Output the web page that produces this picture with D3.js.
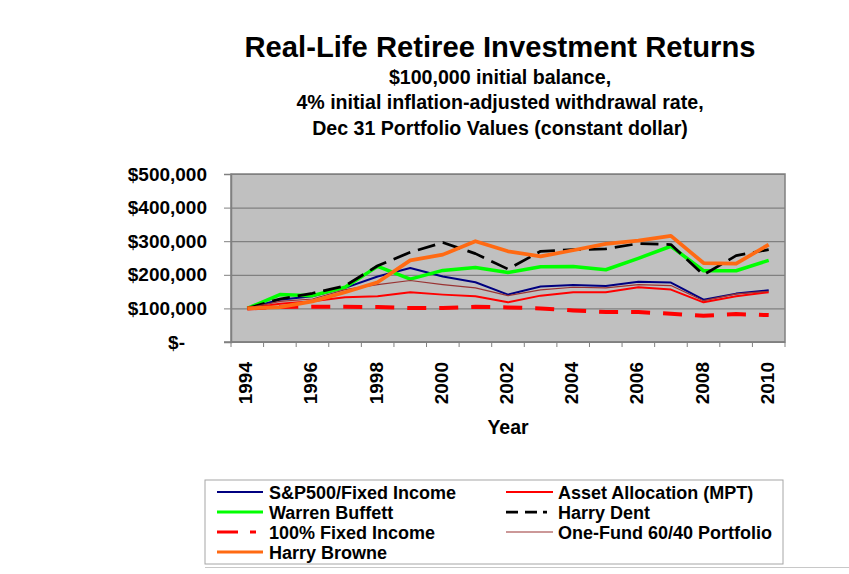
<!DOCTYPE html>
<html>
<head>
<meta charset="utf-8">
<script src="https://cdn.jsdelivr.net/npm/d3@7"></script>
<style>
  body { margin: 0; background: #fff; }
  svg text { font-family: "Liberation Sans", Arial, sans-serif; font-weight: bold; fill: #000; }
</style>
</head>
<body>
<div id="chart"></div>
<script>
// data (constant dollars, Dec 31 values)
const years = [1994, 1995, 1996, 1997, 1998, 1999, 2000, 2001, 2002, 2003, 2004, 2005, 2006, 2007, 2008, 2009, 2010];
const sp500Fixed = [100000, 126000, 136000, 161000, 195000, 220000, 195000, 178000, 141000, 165000, 170000, 167000, 179000, 177000, 126000, 144000, 154000];
const assetAllocation = [100000, 114000, 121000, 133000, 136000, 148000, 141000, 136000, 118000, 138000, 148000, 148000, 163000, 156000, 118000, 136000, 148000];
const warrenBuffett = [100000, 141000, 138000, 163000, 225000, 187000, 213000, 222000, 207000, 224000, 225000, 215000, 249000, 285000, 212000, 212000, 243000];
const harryDent = [100000, 128000, 145000, 167000, 227000, 267000, 296000, 263000, 217000, 270000, 275000, 277000, 293000, 290000, 200000, 257000, 275000];
const fixedIncome = [100000, 104000, 105000, 105000, 104000, 101000, 101000, 105000, 103000, 100000, 94000, 89000, 89000, 84000, 78000, 83000, 80000];
const oneFund6040 = [100000, 121000, 128000, 156000, 171000, 183000, 171000, 161000, 138000, 155000, 163000, 161000, 171000, 168000, 123000, 143000, 151000];
const harryBrowne = [100000, 104000, 121000, 148000, 178000, 243000, 260000, 300000, 270000, 255000, 273000, 292000, 302000, 316000, 235000, 233000, 290000];
const yTicks = [0, 100000, 200000, 300000, 400000, 500000];
const xLabelYears = [1994, 1996, 1998, 2000, 2002, 2004, 2006, 2008, 2010];

const titleText = 'Real-Life Retiree Investment Returns';
const subtitleLines = ['$100,000 initial balance,', '4% initial inflation-adjusted withdrawal rate,', 'Dec 31 Portfolio Values (constant dollar)'];

// series in Excel order (later ones drawn on top)
const series = [
  { name: 'S&P500/Fixed Income', values: sp500Fixed, color: '#000080', width: 2, dash: null },
  { name: 'Asset Allocation (MPT)', values: assetAllocation, color: '#ff0000', width: 2, dash: null },
  { name: 'Warren Buffett', values: warrenBuffett, color: '#00ff00', width: 3.5, dash: null },
  { name: 'Harry Dent', values: harryDent, color: '#000000', width: 2.75, dash: '18,8' },
  { name: '100% Fixed Income', values: fixedIncome, color: '#ff0000', width: 4, dash: '19,13' },
  { name: 'One-Fund 60/40 Portfolio', values: oneFund6040, color: '#993333', width: 1.2, dash: null },
  { name: 'Harry Browne', values: harryBrowne, color: '#ff6a13', width: 3.75, dash: null }
];

// 全体サイズ ---------------------------------------------------------------
const width = 849;
const height = 574;
const plot = { left: 231, right: 785, top: 174, bottom: 342 };

const svg = d3.select('#chart').append('svg')
  .attr('width', width)
  .attr('height', height);

// タイトル ------------------------------------------------------------------
svg.append('text')
  .attr('x', 500).attr('y', 57)
  .attr('text-anchor', 'middle')
  .attr('font-size', '29.2px')
  .text(titleText);
svg.selectAll('.subtitle')
  .data(subtitleLines)
  .enter().append('text')
  .attr('class', 'subtitle')
  .attr('x', 500)
  .attr('y', (d, i) => 83.5 + i * 25.5)
  .attr('text-anchor', 'middle')
  .attr('font-size', '19.6px')
  .text(d => d);

// スケール ------------------------------------------------------------------
const xScale = d3.scaleBand()
  .domain(years)
  .range([plot.left, plot.right])
  .padding(0);
const yScale = d3.scaleLinear()
  .domain([0, 500000])
  .range([plot.bottom, plot.top]);
const cx = d => xScale(d) + xScale.bandwidth() / 2;

// プロット背景 --------------------------------------------------------------
svg.append('rect')
  .attr('x', plot.left).attr('y', plot.top)
  .attr('width', plot.right - plot.left)
  .attr('height', plot.bottom - plot.top)
  .attr('fill', '#c0c0c0')
  .attr('stroke', '#808080')
  .attr('stroke-width', 1.5);

// グリッド線
svg.append('g')
  .attr('transform', 'translate(' + plot.left + ',0)')
  .call(d3.axisLeft(yScale).tickValues(yTicks).tickSize(-(plot.right - plot.left)).tickFormat(''))
  .call(g => g.select('.domain').remove())
  .selectAll('.tick line')
  .attr('stroke', '#808080')
  .attr('stroke-width', 1.2);

// y軸
const yAxis = svg.append('g')
  .attr('transform', 'translate(' + plot.left + ',0)')
  .call(d3.axisLeft(yScale)
    .tickValues(yTicks)
    .tickSize(7)
    .tickPadding(17)
    .tickFormat(d => d === 0 ? '$-' : d3.format('$,')(d)));
yAxis.select('.domain').attr('stroke', '#808080').attr('stroke-width', 1.5);
yAxis.selectAll('.tick line').attr('stroke', '#808080');
yAxis.selectAll('.tick text')
  .attr('font-size', '19px')
  .attr('font-family', '"Liberation Sans", Arial, sans-serif')
  .attr('dx', d => d === 0 ? -22 : 0);

// x軸 (tick marks between categories)
const xAxis = svg.append('g')
  .attr('transform', 'translate(0,' + plot.bottom + ')');
xAxis.append('line')
  .attr('x1', plot.left - 7).attr('x2', plot.right)
  .attr('stroke', '#808080').attr('stroke-width', 1.5);
xAxis.selectAll('.xtick')
  .data(years.map(d => xScale(d)).concat([plot.right]))
  .enter().append('line')
  .attr('class', 'xtick')
  .attr('x1', d => d).attr('x2', d => d)
  .attr('y1', 0).attr('y2', 5)
  .attr('stroke', '#808080');
xAxis.selectAll('.xlabel')
  .data(xLabelYears)
  .enter().append('text')
  .attr('class', 'xlabel')
  .attr('transform', d => 'translate(' + (cx(d) + 5) + ',20) rotate(-90)')
  .attr('text-anchor', 'end')
  .attr('font-size', '19px')
  .text(d => d);

svg.append('text')
  .attr('x', 508).attr('y', 434)
  .attr('text-anchor', 'middle')
  .attr('font-size', '19.5px')
  .text('Year');

// 線 ------------------------------------------------------------------------
const line = d3.line()
  .x((d, i) => cx(years[i]))
  .y(d => yScale(d));
series.forEach(s => {
  svg.append('path')
    .datum(s.values)
    .attr('fill', 'none')
    .attr('stroke', s.color)
    .attr('stroke-width', s.width)
    .attr('stroke-linejoin', 'round')
    .attr('stroke-dasharray', s.dash)
    .attr('d', line);
});

// 凡例 ----------------------------------------------------------------------
svg.append('rect')
  .attr('x', 205).attr('y', 480)
  .attr('width', 578).attr('height', 84)
  .attr('fill', '#fff')
  .attr('stroke', '#a6a6a6');
svg.append('line')
  .attr('x1', 205).attr('x2', width)
  .attr('y1', 567.5).attr('y2', 567.5)
  .attr('stroke', '#c8c8c8');

// legend sample dash patterns (Excel shortens the pattern inside the key)
const legendDash = { 'Harry Dent': '12,7,12,6,4,20', '100% Fixed Income': '21,12,6,20' };
const legendG = svg.append('g').selectAll('g')
  .data(series)
  .enter().append('g')
  .attr('transform', (d, i) => 'translate(' + (i % 2 === 0 ? 217 : 506) + ',' + (492 + Math.floor(i / 2) * 20) + ')');
legendG.append('line')
  .attr('x1', 0).attr('x2', (d, i) => i % 2 === 0 ? 46 : 47)
  .attr('stroke', d => d.color)
  .attr('stroke-width', d => Math.min(d.width, 3))
  .attr('stroke-dasharray', d => legendDash[d.name] || null);
legendG.append('text')
  .attr('x', 52)
  .attr('y', 6.5)
  .attr('font-size', '18px')
  .text(d => d.name);
</script>
</body>
</html>
